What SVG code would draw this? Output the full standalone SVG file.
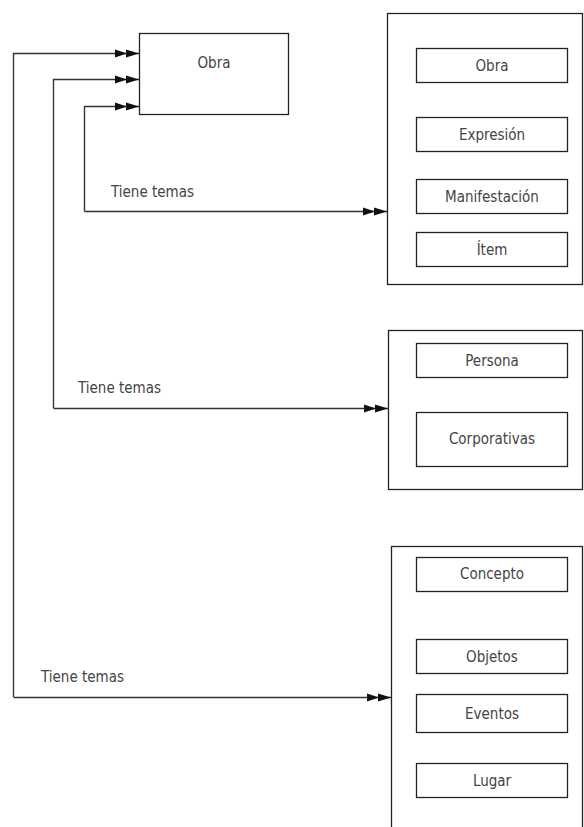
<svg xmlns="http://www.w3.org/2000/svg" width="584" height="827" viewBox="0 0 584 827">
<style>
.box{fill:#fff;stroke:#222;stroke-width:1.3}
.grp{fill:none;stroke:#222;stroke-width:1.3}
.lbl{font-family:"DejaVu Sans Condensed","DejaVu Sans",sans-serif;font-stretch:condensed;font-size:15px;fill:#444;text-anchor:middle}
.edge{fill:none;stroke:#333;stroke-width:1.4;marker-end:url(#dbl)}
.elbl{font-family:"DejaVu Sans Condensed","DejaVu Sans",sans-serif;font-stretch:condensed;font-size:15px;fill:#444}
</style>
<defs>
<marker id="dbl" markerUnits="userSpaceOnUse" markerWidth="26" markerHeight="10" refX="24" refY="5" orient="auto" viewBox="0 0 26 10">
<path d="M0,1 L12,5 L0,9 Z M11,1 L24,5 L11,9 Z" fill="#111"/>
</marker>
</defs>
<rect width="584" height="827" fill="#fff"/>
<g id="obra-main">
<rect class="box" x="139.5" y="33.5" width="149" height="81"/>
<text class="lbl" x="214" y="68">Obra</text>
</g>
<g id="group1">
<rect class="grp" x="387.5" y="13.5" width="195" height="271"/>
<g id="g1-obra"><rect class="box" x="416.5" y="48.5" width="151" height="34"/><text class="lbl" x="492" y="71">Obra</text></g>
<g id="g1-expresion"><rect class="box" x="416.5" y="117.5" width="151" height="34"/><text class="lbl" x="492" y="140">Expresión</text></g>
<g id="g1-manif"><rect class="box" x="416.5" y="179.5" width="151" height="34"/><text class="lbl" x="492" y="202">Manifestación</text></g>
<g id="g1-item"><rect class="box" x="416.5" y="232.5" width="151" height="34"/><text class="lbl" x="492" y="255">Ítem</text></g>
</g>
<g id="group2">
<rect class="grp" x="388.5" y="330.5" width="194" height="159"/>
<g id="g2-persona"><rect class="box" x="416.5" y="343.5" width="151" height="34"/><text class="lbl" x="492" y="366">Persona</text></g>
<g id="g2-corp"><rect class="box" x="416.5" y="412.5" width="151" height="54"/><text class="lbl" x="492" y="444">Corporativas</text></g>
</g>
<g id="group3">
<rect class="grp" x="391.5" y="546.5" width="191" height="290"/>
<g id="g3-concepto"><rect class="box" x="416.5" y="557.5" width="151" height="34"/><text class="lbl" x="492" y="579">Concepto</text></g>
<g id="g3-objetos"><rect class="box" x="416.5" y="639.5" width="151" height="34"/><text class="lbl" x="492" y="662">Objetos</text></g>
<g id="g3-eventos"><rect class="box" x="416.5" y="694.5" width="151" height="38"/><text class="lbl" x="492" y="719">Eventos</text></g>
<g id="g3-lugar"><rect class="box" x="416.5" y="763.5" width="151" height="34"/><text class="lbl" x="492" y="786">Lugar</text></g>
</g>
<g id="connectors">
<path class="edge" d="M13.5,697 L13.5,53.5 L139,53.5"/>
<path class="edge" d="M53.5,408 L53.5,79.5 L139,79.5"/>
<path class="edge" d="M84.5,211.5 L84.5,106.5 L139,106.5"/>
<path class="edge" d="M84.5,211.5 L387,211.5"/>
<path class="edge" d="M53.5,408.5 L388,408.5"/>
<path class="edge" d="M13.5,697.5 L391,697.5"/>
<text class="elbl" x="111" y="197">Tiene temas</text>
<text class="elbl" x="78" y="393">Tiene temas</text>
<text class="elbl" x="41" y="682">Tiene temas</text>
</g>
</svg>
